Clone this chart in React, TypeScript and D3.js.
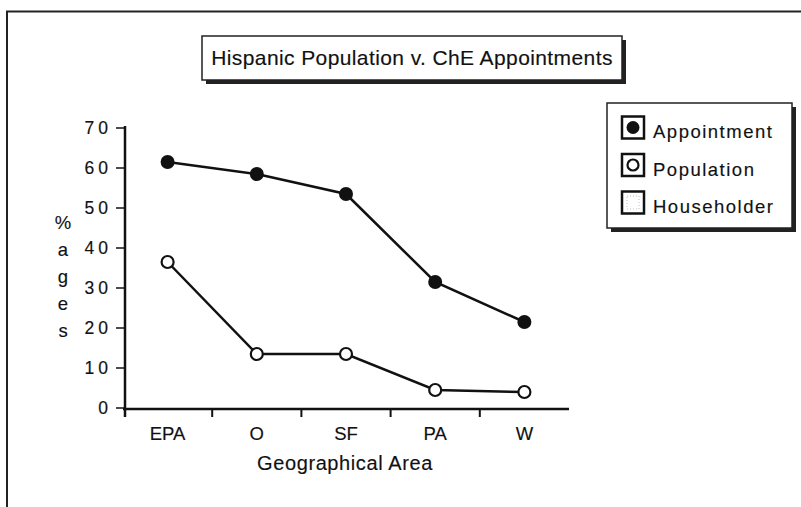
import React from "react";
import * as d3 from "d3";

const areas = ["EPA", "O", "SF", "PA", "W"];
const appointment = [61.5, 58.5, 53.5, 31.5, 21.5];
const population = [36.5, 13.5, 13.5, 4.5, 4];
const yTicks = [0, 10, 20, 30, 40, 50, 60, 70];
const legendItems = ["Appointment", "Population", "Householder"];

const FONT = "'Liberation Sans', Arial, Helvetica, sans-serif";

const App = () => {
  const width = 801,
    height = 507;

  const x = d3.scaleBand<string>().domain(areas).range([123, 569]).padding(0);
  const y = d3.scaleLinear().domain([0, 70]).range([408, 128]);
  const cx = (d: string) => (x(d) as number) + x.bandwidth() / 2;

  const line = d3
    .line<number>()
    .x((d, i) => cx(areas[i]))
    .y((d) => y(d));

  const yLabel = ["%", "a", "g", "e", "s"];
  // a touch of stroke so the text reads dark like the scanned print
  const ink = { fill: "#111", stroke: "#111", strokeWidth: 0.15 };

  return (
    <svg
      width={width}
      height={height}
      style={{ position: "absolute", left: 0, top: 0, background: "#fff" }}
      fontFamily={FONT}
    >
      {/* outer frame */}
      <path d={`M7,${height} V11.5 H${width}`} fill="none" stroke="#222" strokeWidth={2} />

      {/* title box */}
      <rect x={206} y={40} width={420} height={44} fill="#222" />
      <rect x={202} y={36} width={420} height={44} fill="#fff" stroke="#222" strokeWidth={1.5} />
      <text x={412} y={65} textAnchor="middle" fontSize={21} letterSpacing={0.4} {...ink}>
        Hispanic Population v. ChE Appointments
      </text>

      {/* legend */}
      <rect x={611} y={107} width={185} height={125} fill="#222" />
      <rect x={607} y={103} width={185} height={125} fill="#fff" stroke="#222" strokeWidth={1.5} />
      {legendItems.map((name, i) => {
        const cy = 127.5 + i * 37.5;
        return (
          <g key={name}>
            <rect x={622} y={cy - 11} width={22} height={22} fill="#fff" stroke="#111" strokeWidth={2.5} />
            {i === 0 && <circle cx={633} cy={cy} r={6.5} fill="#111" />}
            {i === 1 && <circle cx={633} cy={cy} r={5.5} fill="#fff" stroke="#111" strokeWidth={2.2} />}
            {i === 2 && (
              <rect x={627} y={cy - 6.5} width={12} height={13} fill="none" stroke="#bbb" strokeWidth={1} strokeDasharray="1,2" />
            )}
            <text x={653} y={cy + 10.5} fontSize={18.5} letterSpacing={1.5} {...ink}>
              {name}
            </text>
          </g>
        );
      })}

      {/* y axis */}
      <line x1={125} x2={125} y1={126} y2={417} stroke="#111" strokeWidth={2.5} />
      {yTicks.map((t) => (
        <g key={t}>
          <line x1={116} x2={125} y1={y(t)} y2={y(t)} stroke="#111" strokeWidth={1.5} />
          <text x={112} y={y(t) + 6} textAnchor="end" fontSize={17.5} letterSpacing={4} {...ink}>
            {t}
          </text>
        </g>
      ))}
      {yLabel.map((c, i) => (
        <text key={i} x={63} y={229 + i * 27} textAnchor="middle" fontSize={18.5} {...ink}>
          {c}
        </text>
      ))}

      {/* x axis */}
      <line x1={123} x2={569} y1={409} y2={409} stroke="#111" strokeWidth={2.5} />
      {areas.slice(1).map((a) => (
        <line key={a} x1={x(a) as number} x2={x(a) as number} y1={409} y2={417} stroke="#111" strokeWidth={2} />
      ))}
      {areas.map((a) => (
        <text key={a} x={cx(a)} y={440} textAnchor="middle" fontSize={18.5} {...ink}>
          {a}
        </text>
      ))}
      <text x={345} y={470} textAnchor="middle" fontSize={20} letterSpacing={0.6} {...ink}>
        Geographical Area
      </text>

      {/* series */}
      <path d={line(appointment) as string} fill="none" stroke="#111" strokeWidth={2.5} />
      <path d={line(population) as string} fill="none" stroke="#111" strokeWidth={2.5} />
      {appointment.map((v, i) => (
        <circle key={"a" + i} cx={cx(areas[i])} cy={y(v)} r={7} fill="#111" />
      ))}
      {population.map((v, i) => (
        <circle key={"p" + i} cx={cx(areas[i])} cy={y(v)} r={6} fill="#fff" stroke="#111" strokeWidth={2.2} />
      ))}
    </svg>
  );
};

export default App;
